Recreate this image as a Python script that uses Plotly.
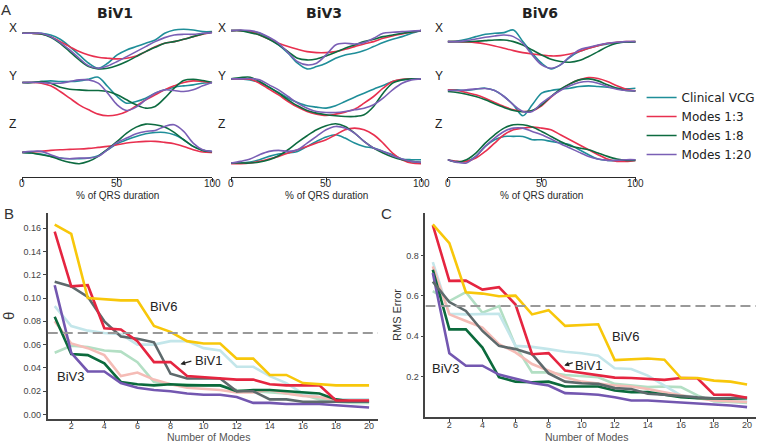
import plotly.graph_objects as go

W, H = 760, 444

# ---------------- Panel A data (amplitude, arbitrary units) ----------------
pct = list(range(0, 101, 5))
series_names = ["Clinical VCG", "Modes 1:3", "Modes 1:8", "Modes 1:20"]
series_colors = ["#1f8e99", "#e8304f", "#0d6b40", "#7a5fb5"]

biv1_x = [
    [0,0,0,-5,-18,-40,-65,-90,-105,-90,-65,-50,-40,-30,-20,0,10,12,10,5,5],
    [0,0,-2,-10,-25,-40,-55,-65,-72,-75,-77,-75,-68,-55,-40,-30,-25,-18,-10,-3,3],
    [0,0,-2,-12,-30,-55,-80,-100,-107,-105,-97,-85,-70,-55,-42,-30,-25,-18,-10,-2,3],
    [0,0,0,-10,-28,-50,-75,-98,-105,-98,-85,-70,-55,-40,-25,-13,-5,-3,-3,0,2],
]
biv1_y = [
    [0,0,3,5,3,3,5,10,16,-12,-42,-62,-57,-47,-32,-22,-14,-10,-7,-2,0],
    [0,0,-2,-10,-27,-47,-67,-82,-95,-100,-97,-87,-70,-52,-37,-22,-10,0,5,3,0],
    [0,0,3,-2,-14,-20,-22,-24,-24,-27,-37,-52,-67,-77,-72,-47,-17,6,10,6,0],
    [0,1,0,-2,-2,3,8,8,-2,-32,-67,-84,-74,-52,-32,-22,-24,-27,-22,-10,0],
]
biv1_z = [
    [0,-2,-5,-12,-17,-19,-19,-17,-10,8,26,38,48,56,60,60,53,38,18,6,2],
    [0,1,3,6,8,9,10,12,15,18,23,28,31,33,33,30,26,18,8,1,0],
    [0,-2,-7,-12,-22,-30,-34,-27,-12,10,33,58,76,85,83,76,60,38,18,6,2],
    [0,3,3,-7,-17,-19,-17,-17,-12,8,30,43,56,63,66,78,83,63,28,8,3],
]
biv3_x = [
    [0,0,-3,-8,-23,-43,-68,-98,-115,-108,-98,-83,-73,-68,-60,-48,-36,-26,-18,-8,0],
    [0,0,-3,-13,-26,-38,-48,-56,-63,-66,-66,-63,-56,-48,-40,-33,-23,-16,-10,-4,0],
    [0,0,-6,-13,-26,-43,-63,-83,-88,-85,-76,-65,-53,-43,-33,-26,-18,-13,-8,-4,0],
    [0,2,0,-6,-20,-38,-66,-93,-103,-98,-73,-43,-38,-40,-36,-23,-8,-5,-3,-1,0],
]
biv3_y = [
    [0,0,-3,-11,-25,-41,-58,-71,-81,-85,-88,-81,-68,-55,-43,-31,-20,-8,-3,-1,0],
    [0,0,-1,-13,-31,-48,-68,-85,-98,-106,-110,-106,-100,-91,-73,-53,-28,-8,-1,0,0],
    [0,4,5,-8,-25,-43,-63,-81,-95,-103,-108,-111,-113,-113,-108,-83,-43,-13,-3,0,0],
    [0,0,1,-3,-18,-33,-53,-73,-88,-98,-101,-101,-98,-93,-88,-78,-58,-33,-13,-3,0],
]
biv3_z = [
    [0,0,3,10,20,27,30,35,50,65,78,85,75,60,50,45,35,25,12,10,10],
    [-2,-2,0,5,12,20,30,40,50,60,70,85,100,105,100,85,60,30,10,0,-2],
    [0,0,0,3,10,22,40,62,82,100,112,118,110,90,65,45,30,18,10,5,2],
    [0,5,12,25,35,38,35,40,60,80,100,110,105,90,65,45,35,22,12,5,2],
]
biv6_x = [
    [0,2,7,15,22,25,27,35,0,-35,-65,-82,-70,-47,-30,-20,-12,-7,-3,-1,-2],
    [0,0,-1,-3,-7,-13,-20,-27,-33,-37,-40,-43,-42,-37,-30,-20,-12,-5,-2,0,0],
    [0,0,0,1,3,5,5,0,-10,-25,-40,-53,-60,-62,-57,-45,-30,-15,-5,-1,0],
    [0,0,3,8,13,17,20,15,-5,-40,-70,-80,-70,-45,-25,-17,-10,-5,-2,0,0],
]
biv6_y = [
    [0,0,-2,2,5,-2,-20,-45,-78,-45,-10,-2,2,5,10,12,10,8,5,3,5],
    [0,-2,-8,-15,-25,-38,-50,-60,-65,-63,-48,-22,0,18,30,37,34,25,12,2,-3],
    [-5,-8,-13,-20,-30,-42,-53,-62,-66,-62,-45,-20,2,18,30,33,27,15,5,-2,-3],
    [-2,-2,0,3,4,-2,-20,-45,-65,-65,-40,-20,-2,12,22,25,20,10,2,-2,-3],
]
biv6_z = [
    [0,-5,-5,10,40,60,70,70,70,60,60,55,50,45,30,15,2,-2,-3,-2,0],
    [0,-5,-5,5,25,50,75,90,95,98,95,90,75,60,45,30,15,2,-5,-5,-2],
    [0,-7,0,20,50,75,95,105,105,98,85,70,55,42,35,30,20,10,2,-2,-2],
    [0,-8,-10,10,40,65,85,95,95,85,75,62,48,35,22,10,2,-2,-2,0,0],
]
panel_titles = ["BiV1", "BiV3", "BiV6"]
panel_leads = [[biv1_x, biv1_y, biv1_z], [biv3_x, biv3_y, biv3_z], [biv6_x, biv6_y, biv6_z]]
lead_names = ["X", "Y", "Z"]
lead_offsets = [[-100, -248, -458], [-92, -237, -490], [-125, -270, -480]]

# ---------------- Panel B / C data ----------------
modes = list(range(1, 21))
patient_colors = {
    "lightgreen": "#b3dfc4",
    "lightblue": "#c3e6ea",
    "pink": "#f5bcb6",
    "darkgreen": "#0b6a3c",
    "purple": "#7357b0",
    "gray": "#5e6a6c",
    "red": "#e52540",
    "yellow": "#f8c70a",
}
theta = {
    "lightgreen": [0.053,0.059,0.058,0.055,0.054,0.045,0.028,0.026,0.026,0.025,0.025,0.021,0.020,0.019,0.018,0.017,0.013,0.011,0.010,0.010],
    "lightblue": [0.093,0.076,0.072,0.070,0.069,0.060,0.060,0.063,0.063,0.057,0.055,0.041,0.041,0.033,0.027,0.018,0.015,0.013,0.013,0.013],
    "pink": [0.080,0.061,0.057,0.051,0.033,0.036,0.030,0.026,0.023,0.022,0.021,0.019,0.019,0.021,0.018,0.016,0.015,0.012,0.012,0.012],
    "darkgreen": [0.084,0.052,0.051,0.044,0.028,0.026,0.025,0.026,0.025,0.025,0.025,0.020,0.021,0.021,0.020,0.019,0.018,0.013,0.011,0.011],
    "purple": [0.111,0.053,0.037,0.037,0.027,0.023,0.021,0.020,0.018,0.017,0.017,0.015,0.010,0.010,0.009,0.009,0.009,0.008,0.007,0.006],
    "gray": [0.114,0.110,0.101,0.080,0.067,0.065,0.062,0.035,0.031,0.031,0.031,0.020,0.020,0.013,0.013,0.011,0.011,0.011,0.011,0.011],
    "red": [0.157,0.110,0.111,0.074,0.073,0.063,0.045,0.045,0.033,0.032,0.031,0.030,0.030,0.026,0.025,0.025,0.025,0.012,0.012,0.012],
    "yellow": [0.163,0.155,0.100,0.099,0.098,0.098,0.076,0.071,0.063,0.061,0.061,0.048,0.048,0.034,0.034,0.027,0.026,0.025,0.025,0.025],
}
rms = {
    "lightgreen": [0.623,0.574,0.618,0.516,0.549,0.352,0.221,0.221,0.208,0.202,0.197,0.164,0.156,0.148,0.151,0.148,0.107,0.077,0.074,0.070],
    "lightblue": [0.767,0.511,0.508,0.511,0.511,0.352,0.347,0.336,0.323,0.316,0.303,0.241,0.238,0.205,0.156,0.107,0.098,0.082,0.082,0.082],
    "pink": [0.746,0.508,0.475,0.443,0.361,0.320,0.262,0.230,0.197,0.175,0.164,0.156,0.151,0.139,0.123,0.107,0.093,0.082,0.077,0.074],
    "darkgreen": [0.729,0.434,0.434,0.344,0.197,0.175,0.172,0.175,0.151,0.151,0.151,0.131,0.123,0.123,0.110,0.098,0.093,0.090,0.090,0.093],
    "purple": [0.713,0.316,0.254,0.254,0.210,0.188,0.169,0.156,0.118,0.115,0.110,0.098,0.082,0.082,0.077,0.074,0.069,0.061,0.057,0.049],
    "gray": [0.670,0.569,0.525,0.426,0.352,0.336,0.311,0.216,0.175,0.167,0.164,0.143,0.139,0.115,0.110,0.102,0.097,0.093,0.093,0.095],
    "red": [0.950,0.674,0.675,0.631,0.643,0.557,0.311,0.316,0.230,0.218,0.208,0.195,0.193,0.188,0.184,0.193,0.192,0.110,0.110,0.095],
    "yellow": [0.954,0.861,0.618,0.611,0.598,0.601,0.508,0.529,0.451,0.454,0.459,0.282,0.287,0.290,0.284,0.193,0.193,0.180,0.175,0.161],
}
theta_threshold = 0.07
rms_threshold = 0.55
mode_ticks = list(range(2, 21, 2))


def px(x):
    return x / W


def py(y):
    return 1 - y / H


fig = go.Figure()
FONT = "Liberation Sans, Arial, sans-serif"
DARK = "#2a2a2a"

# ---- Panel A ----
a_domains = [(22.3, 213.3), (232.3, 423.3), (450, 639)]
label_x = [13, 223, 441]
label_y = [28, 76, 124]
for p in range(3):
    ax = "" if p == 0 else str(p + 1)
    for li in range(3):
        for si in range(4):
            vals = panel_leads[p][li][si]
            fig.add_trace(go.Scatter(
                x=pct, y=[lead_offsets[p][li] + v for v in vals],
                mode="lines", line=dict(color=series_colors[si], width=1.6, shape="spline", smoothing=0.9),
                name=series_names[si], legendgroup=series_names[si],
                showlegend=(p == 0 and li == 0),
                xaxis="x" + ax, yaxis="y" + ax, hoverinfo="skip",
            ))
    x0, x1 = a_domains[p]
    fig.layout["xaxis" + ax] = dict(
        domain=[px(x0), px(x1)], range=[0, 100], anchor="y" + ax,
        tickvals=[0, 50, 100], ticks="outside", ticklen=4, tickwidth=1.2, tickcolor=DARK,
        showline=True, linecolor=DARK, linewidth=1.3, showgrid=False, zeroline=False,
        showticklabels=False,
    )
    fig.layout["yaxis" + ax] = dict(
        domain=[py(177), py(20)], range=[-532, -60], anchor="x" + ax,
        visible=False, showgrid=False, zeroline=False,
    )
    # tick labels and axis title placed right under the axis line
    for tv in [0, 50, 100]:
        fig.add_annotation(text=str(tv), x=tv, y=py(183.5), xref="x" + ax, yref="paper",
                           showarrow=False, xanchor="center", yanchor="middle", borderpad=0,
                           font=dict(size=10, color=DARK, family=FONT))
    fig.add_annotation(text="% of QRS duration", x=50, y=py(196), xref="x" + ax, yref="paper",
                       showarrow=False, xanchor="center", yanchor="middle", borderpad=0,
                       font=dict(size=10, color=DARK, family=FONT))
    fig.add_annotation(text="<b>" + panel_titles[p] + "</b>", x=px((x0 + x1) / 2 - 2), y=py(13),
                       xref="paper", yref="paper", showarrow=False, xanchor="center", yanchor="middle",
                       font=dict(size=14, color="#222", family="DejaVu Sans, sans-serif"))
    for li in range(3):
        fig.add_annotation(text=lead_names[li], x=px(label_x[p]), y=py(label_y[li]),
                           xref="paper", yref="paper", showarrow=False, xanchor="center", yanchor="middle",
                           font=dict(size=12, color="#222", family=FONT))

# ---- Panel B / C ----
order = ["lightgreen", "lightblue", "pink", "darkgreen", "purple", "gray", "red", "yellow"]
for k in order:
    fig.add_trace(go.Scatter(x=modes, y=theta[k], mode="lines",
                             line=dict(color=patient_colors[k], width=2.6),
                             xaxis="x4", yaxis="y4", showlegend=False, hoverinfo="skip"))
    fig.add_trace(go.Scatter(x=modes, y=rms[k], mode="lines",
                             line=dict(color=patient_colors[k], width=2.6),
                             xaxis="x5", yaxis="y5", showlegend=False, hoverinfo="skip"))

axis_common = dict(ticks="outside", ticklen=3, tickwidth=1, tickcolor="#444",
                   showline=True, linecolor="#444", linewidth=1.8, showgrid=False, zeroline=False,
                   tickfont=dict(size=9, color="#444", family=FONT))
fig.layout["xaxis4"] = dict(domain=[px(48), px(380)], range=[0.58, 20.54], anchor="y4",
                            tickvals=mode_ticks, ticklabelstandoff=-5, **axis_common)
fig.layout["yaxis4"] = dict(domain=[py(418.5), py(213)], range=[-0.0034, 0.173], anchor="x4",
                            tickvals=[0, 0.02, 0.04, 0.06, 0.08, 0.1, 0.12, 0.14, 0.16], tickformat=".2f",
                            title=dict(text="θ", font=dict(size=15, color="#333", family=FONT), standoff=9),
                            **axis_common)
fig.layout["xaxis5"] = dict(domain=[px(427.7), px(760)], range=[0.555, 20.54], anchor="y5",
                            tickvals=mode_ticks, ticklabelstandoff=-5, **axis_common)
fig.layout["yaxis5"] = dict(domain=[py(417), py(213)], range=[0, 1.01], anchor="x5",
                            tickvals=[0.2, 0.4, 0.6, 0.8], tickformat=".1f",
                            title=dict(text="RMS Error", font=dict(size=11, color="#333", family=FONT), standoff=2),
                            **axis_common)

# x-axis titles of B and C
for cx in (210, 590):
    fig.add_annotation(text="Number of Modes", x=px(cx), y=0, xref="paper", yref="paper",
                       showarrow=False, xanchor="center", yanchor="bottom", borderpad=0,
                       font=dict(size=10.5, color="#555", family=FONT))

fig.add_shape(type="line", xref="x4", yref="y4", x0=0.58, x1=20.54, y0=theta_threshold, y1=theta_threshold,
              line=dict(color="#999", width=2, dash="10px,5px"))
fig.add_shape(type="line", xref="x5", yref="y5", x0=0.555, x1=20.54, y0=rms_threshold, y1=rms_threshold,
              line=dict(color="#999", width=2, dash="10px,5px"))

ann_font = dict(size=13, color="#222", family=FONT)
fig.add_annotation(text="BiV6", x=7.6, y=0.093, xref="x4", yref="y4", showarrow=False, font=ann_font)
fig.add_annotation(text="BiV1", x=10.3, y=0.046, xref="x4", yref="y4", showarrow=False, font=ann_font)
fig.add_annotation(text="", x=8.6, y=0.0432, ax=9.35, ay=0.0462, xref="x4", yref="y4", axref="x4", ayref="y4",
                   showarrow=True, arrowhead=2, arrowsize=0.8, arrowwidth=1.2, arrowcolor="#222")
fig.add_annotation(text="BiV3", x=1.96, y=0.0323, xref="x4", yref="y4", showarrow=False, font=ann_font)

fig.add_annotation(text="BiV6", x=12.66, y=0.40, xref="x5", yref="y5", showarrow=False, font=ann_font)
fig.add_annotation(text="BiV1", x=10.4, y=0.257, xref="x5", yref="y5", showarrow=False, font=ann_font)
fig.add_annotation(text="", x=8.95, y=0.255, ax=9.55, ay=0.272, xref="x5", yref="y5", axref="x5", ayref="y5",
                   showarrow=True, arrowhead=2, arrowsize=0.8, arrowwidth=1.2, arrowcolor="#222")
fig.add_annotation(text="BiV3", x=1.78, y=0.238, xref="x5", yref="y5", showarrow=False, font=ann_font)

# panel letters
for letter, lx, ly in [("A", 6, 9), ("B", 9, 213), ("C", 389, 214)]:
    fig.add_annotation(text=letter, x=px(lx), y=py(ly), xref="paper", yref="paper", showarrow=False,
                       xanchor="center", yanchor="middle", font=dict(size=15, color="#333", family=FONT))

fig.update_layout(
    width=W, height=H, margin=dict(l=0, r=0, t=0, b=0),
    paper_bgcolor="white", plot_bgcolor="white",
    legend=dict(x=px(645), y=py(83), xanchor="left", yanchor="top",
                font=dict(size=12, color="#222", family="DejaVu Sans, sans-serif"),
                bgcolor="rgba(0,0,0,0)", tracegroupgap=0, itemwidth=30),
    showlegend=True,
)

fig.write_html("out.html", config={"displayModeBar": False})

# remove the default page margin so the figure sits at the window origin
with open("out.html", "r", encoding="utf-8") as f:
    html = f.read()
html = html.replace("<body>", '<body style="margin:0;padding:0;overflow:hidden">', 1)
with open("out.html", "w", encoding="utf-8") as f:
    f.write(html)
